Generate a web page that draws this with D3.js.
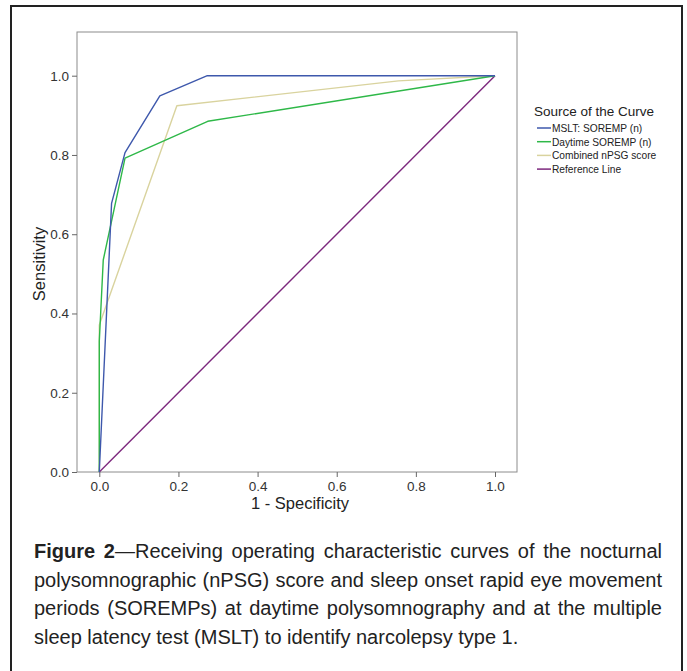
<!DOCTYPE html>
<html>
<head>
<meta charset="utf-8">
<script src="https://cdn.jsdelivr.net/npm/d3@7"></script>
<style>
  body { margin: 0; background: #fff; }
  #wrap { position: relative; width: 687px; height: 671px; overflow: hidden; }
  #caption {
    position: absolute; left: 34px; top: 537px; width: 628px;
    font-family: "Liberation Sans", Arial, sans-serif;
    font-size: 20px; line-height: 28.7px; color: #222;
  }
  #caption div { text-align: justify; text-align-last: justify; white-space: nowrap; }
  #caption div.last { text-align-last: left; }
  #caption b { font-weight: bold; }
</style>
</head>
<body>
<div id="wrap">
  <svg id="chart" width="687" height="671"></svg>
  <div id="caption"></div>
</div>
<script>
// ROC points: [1 - specificity, sensitivity]
var msltSoremp = [[0, 0], [0.031, 0.678], [0.065, 0.806], [0.153, 0.949], [0.273, 1], [1, 1]];
var daytimeSoremp = [[0, 0], [0, 0.33], [0.01, 0.535], [0.065, 0.792], [0.274, 0.885], [1, 1]];
var combinedNpsg = [[0, 0], [0, 0.371], [0.196, 0.924], [0.756, 0.987], [1, 1]];
var referenceLine = [[0, 0], [1, 1]];

var seriesNames = ['MSLT: SOREMP (n)', 'Daytime SOREMP (n)', 'Combined nPSG score', 'Reference Line'];
var seriesColors = ['#3e58ac', '#2eb848', '#d9d39e', '#7c287d'];
var tickValues = [0, 0.2, 0.4, 0.6, 0.8, 1.0];

var captionLines = [
  'Receiving operating characteristic curves of the nocturnal',
  'polysomnographic (nPSG) score and sleep onset rapid eye movement',
  'periods (SOREMPs) at daytime polysomnography and at the multiple',
  'sleep latency test (MSLT) to identify narcolepsy type 1.'
];

var svg = d3.select('#chart');

// figure border
svg.append('path')
  .attr('d', 'M11,680 V6 H682 V680')
  .attr('fill', 'none')
  .attr('stroke', '#222')
  .attr('stroke-width', 2);

var frame = {left: 77, top: 32, right: 517, bottom: 472};

var x = d3.scaleLinear().domain([0, 1]).range([99.3, 495]);
var y = d3.scaleLinear().domain([0, 1]).range([472, 75.7]);

svg.append('rect')
  .attr('x', frame.left).attr('y', frame.top)
  .attr('width', frame.right - frame.left)
  .attr('height', frame.bottom - frame.top)
  .attr('fill', 'none').attr('stroke', '#8c8c8c').attr('stroke-width', 1);

var fmt = d3.format('.1f');

var yAxis = svg.append('g')
  .attr('transform', 'translate(' + frame.left + ',0)')
  .call(d3.axisLeft(y).tickValues(tickValues).tickFormat(fmt).tickSize(5).tickPadding(3));

var xAxis = svg.append('g')
  .attr('transform', 'translate(0,' + frame.bottom + ')')
  .call(d3.axisBottom(x).tickValues(tickValues).tickFormat(fmt).tickSize(5).tickPadding(4));

[xAxis, yAxis].forEach(function (g) {
  g.select('.domain').remove();
  g.selectAll('line').attr('stroke', '#666');
  g.selectAll('text')
    .attr('fill', '#333')
    .style('font-family', '"Liberation Sans", Arial, sans-serif')
    .style('font-size', '13.5px');
});

svg.append('text')
  .attr('x', 300).attr('y', 509)
  .attr('text-anchor', 'middle')
  .attr('fill', '#222')
  .style('font-family', '"Liberation Sans", Arial, sans-serif')
  .style('font-size', '16.5px')
  .text('1 - Specificity');

svg.append('text')
  .attr('transform', 'translate(45,264) rotate(-90)')
  .attr('text-anchor', 'middle')
  .attr('fill', '#222')
  .style('font-family', '"Liberation Sans", Arial, sans-serif')
  .style('font-size', '16.5px')
  .text('Sensitivity');

var line = d3.line()
  .x(function (d) { return x(d[0]); })
  .y(function (d) { return y(d[1]); });

var series = [referenceLine, combinedNpsg, daytimeSoremp, msltSoremp];
var order = [3, 2, 1, 0];

svg.append('g')
  .selectAll('path')
  .data(series)
  .enter()
  .append('path')
  .attr('d', line)
  .attr('fill', 'none')
  .attr('stroke', function (d, i) { return seriesColors[order[i]]; })
  .attr('stroke-width', 1.4)
  .attr('stroke-linejoin', 'round');

// legend
var legend = svg.append('g').attr('transform', 'translate(534,0)');

legend.append('text')
  .attr('x', 0).attr('y', 116)
  .attr('fill', '#222')
  .style('font-family', '"Liberation Sans", Arial, sans-serif')
  .style('font-size', '13.5px')
  .text('Source of the Curve');

var item = legend.selectAll('g.item')
  .data(seriesNames)
  .enter()
  .append('g')
  .attr('class', 'item')
  .attr('transform', function (d, i) { return 'translate(0,' + (128 + i * 13.7) + ')'; });

item.append('line')
  .attr('x1', 3).attr('x2', 17)
  .attr('stroke', function (d, i) { return seriesColors[i]; })
  .attr('stroke-width', 1.5);

item.append('text')
  .attr('x', 18).attr('y', 3.8)
  .attr('fill', '#222')
  .style('font-family', '"Liberation Sans", Arial, sans-serif')
  .style('font-size', '10.2px')
  .text(function (d) { return d; });

// caption, one justified line per row as in the printed figure
var cap = d3.select('#caption');
captionLines.forEach(function (t, i) {
  var row = cap.append('div').classed('last', i === captionLines.length - 1);
  if (i === 0) {
    row.append('b').text('Figure 2');
    row.append('span').text('\u2014' + t);
  } else {
    row.text(t);
  }
});
</script>
</body>
</html>
